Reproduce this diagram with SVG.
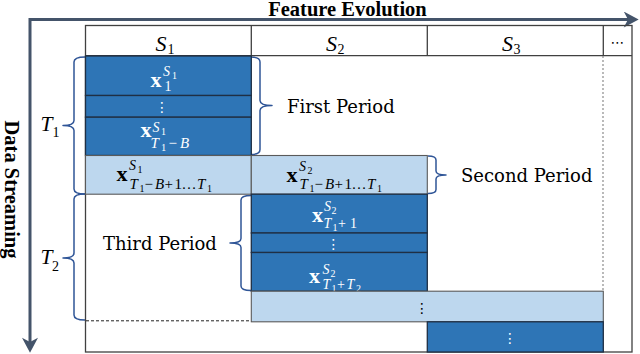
<svg xmlns="http://www.w3.org/2000/svg" width="640" height="354" viewBox="0 0 640 354">
<defs>
<marker id="ah" markerUnits="userSpaceOnUse" markerWidth="16" markerHeight="16" viewBox="0 0 14 15" refX="4" refY="7.5" orient="auto-start-reverse"><path d="M0,0 L14,7.5 L0,15 L4,7.5 Z" fill="#44546A"/></marker>
</defs>
<style>
.frame{fill:none;stroke:#404040;stroke-width:1.3}
.dk{fill:#2E75B6;stroke:#1F2F44;stroke-width:1.3}
.lt{fill:#BDD7EE;stroke:#5a5a5a;stroke-width:1.1}
.br{fill:none;stroke:#2F5597;stroke-width:1.5;stroke-linejoin:round}
.axis{fill:none;stroke:#44546A;stroke-width:3}
.t{font-family:"DejaVu Serif",serif;font-size:18px;fill:#000}
.ttl{font-family:"Liberation Serif",serif;font-size:20.5px;font-weight:bold;fill:#000}
.m{font-family:"Liberation Serif",serif;fill:#000}
.it{font-style:italic}
.bx{font-weight:bold;font-size:22px}
.w{fill:#fff}
.dots{font-family:"DejaVu Sans",sans-serif;font-size:14px;text-anchor:middle}
</style>
<rect x="0" y="0" width="640" height="354" fill="#fff"/>

<g id="connectors">
<path class="axis" d="M30,342 V19.5 H628" marker-start="url(#ah)" marker-end="url(#ah)"/>
<path id="brace-T1" class="br" d="M85,57 Q74,57 74,62 V120.5 Q74,125.5 63,125.5 Q74,125.5 74,130.5 V189 Q74,194 85,194"/>
<path id="brace-T2" class="br" d="M85,194 Q74,194 74,199 V253 Q74,258 63,258 Q74,258 74,263 V315 Q74,320 85,320"/>
<path id="brace-first" class="br" d="M251,57 Q260,57 260,62 V100.5 Q260,105.5 272,105.5 Q260,105.5 260,110.5 V149.5 Q260,154.5 251,154.5"/>
<path id="brace-second" class="br" d="M428,156 Q436,156 436,160 V171 Q436,175 446,175 Q436,175 436,179 V189.5 Q436,193.5 428,193.5"/>
<path id="brace-third" class="br" d="M251,195.5 Q241,195.5 241,200 V238.5 Q241,243 230,243 Q241,243 241,247.5 V286 Q241,290.5 251,290.5"/>
</g>

<g id="table-frame">
<rect class="frame" x="85.5" y="25.5" width="546.5" height="326.5"/>
<line class="frame" x1="85.5" y1="55.7" x2="632" y2="55.7"/>
<line class="frame" x1="251.3" y1="25.5" x2="251.3" y2="55.7"/>
<line class="frame" x1="427.3" y1="25.5" x2="427.3" y2="55.7"/>
<line class="frame" x1="603.3" y1="25.5" x2="603.3" y2="55.7"/>
<line x1="603" y1="56" x2="603" y2="291" stroke="#8c8c8c" stroke-width="1.2" stroke-dasharray="2,2"/>
<line x1="86" y1="320.8" x2="251" y2="320.8" stroke="#222" stroke-width="1" stroke-dasharray="3,2"/>
</g>

<g id="header">
<text class="m it" font-size="22" x="155.5" y="50.5">S</text><text class="m" font-size="14" x="167.5" y="53.5">1</text>
<text class="m it" font-size="22" x="326" y="50.5">S</text><text class="m" font-size="14" x="337.5" y="53.5">2</text>
<text class="m it" font-size="22" x="502" y="50.5">S</text><text class="m" font-size="14" x="513.5" y="53.5">3</text>
<text class="dots" x="617.5" y="46.5">⋯</text>
</g>

<g id="cell-s1-r1">
<rect class="dk" x="85.5" y="56" width="165.8" height="39.5"/>
<text class="m bx w" x="150.5" y="87">x</text>
<text class="m it w" font-size="14" x="163" y="75.5">S</text>
<text class="m w" font-size="10" x="172" y="78.5">1</text>
<text class="m w" font-size="14" x="164.5" y="91">1</text>
</g>
<g id="cell-s1-r2">
<rect class="dk" x="85.5" y="95.5" width="165.8" height="21.7"/>
<text class="dots w" x="162" y="112">⋮</text>
</g>
<g id="cell-s1-r3">
<rect class="dk" x="85.5" y="117.2" width="165.8" height="38.3"/>
<text class="m bx w" x="140.5" y="136.5">x</text>
<text class="m it w" font-size="14" x="152.5" y="131.5">S</text>
<text class="m w" font-size="10" x="161" y="134.5">1</text>
<text class="m w" font-size="15" y="147.5"><tspan class="it" x="150.5">T</tspan><tspan font-size="10.5" x="161" dy="3.5">1</tspan><tspan x="168.5" dy="-3.5">−</tspan><tspan class="it" x="180">B</tspan></text>
</g>
<g id="cell-s1-r4">
<rect class="lt" x="85.5" y="155.5" width="165.8" height="38.7"/>
<text class="m bx" x="116.5" y="181">x</text>
<text class="m it" font-size="14" x="129" y="169.5">S</text>
<text class="m" font-size="10" x="137.5" y="172.5">1</text>
<text class="m" font-size="15" y="188.5"><tspan class="it" x="129.5">T</tspan><tspan font-size="10" x="139.5" dy="3">1</tspan><tspan x="144.5" dy="-3">−</tspan><tspan class="it" x="155">B</tspan><tspan x="164.5">+</tspan><tspan x="174.5">1</tspan><tspan x="181.5">…</tspan><tspan class="it" x="197">T</tspan><tspan font-size="10" x="207" dy="3">1</tspan></text>
</g>

<g id="cell-s2-r4">
<rect class="lt" x="251.3" y="155.5" width="176" height="38.7"/>
<text class="m bx" x="286.5" y="182">x</text>
<text class="m it" font-size="14" x="299" y="170.5">S</text>
<text class="m" font-size="10" x="307.5" y="173.5">2</text>
<text class="m" font-size="15" y="189"><tspan class="it" x="299.5">T</tspan><tspan font-size="10" x="309.5" dy="3">1</tspan><tspan x="314.5" dy="-3">−</tspan><tspan class="it" x="325">B</tspan><tspan x="334.5">+</tspan><tspan x="344.5">1</tspan><tspan x="351.5">…</tspan><tspan class="it" x="367">T</tspan><tspan font-size="10" x="377" dy="3">1</tspan></text>
</g>
<g id="cell-s2-r5">
<rect class="dk" x="251.3" y="194.2" width="176" height="38.8"/>
<text class="m bx w" x="312" y="222">x</text>
<text class="m it w" font-size="14" x="324" y="211">S</text>
<text class="m w" font-size="10" x="331.5" y="214">2</text>
<text class="m w" font-size="14" y="227.5"><tspan class="it" x="323.5">T</tspan><tspan font-size="10" x="332.5" dy="3">1</tspan><tspan x="338" dy="-3">+</tspan><tspan x="350">1</tspan></text>
</g>
<g id="cell-s2-r6">
<rect class="dk" x="251.3" y="233" width="176" height="19.5"/>
<text class="dots w" x="333.5" y="248.5">⋮</text>
</g>
<g id="cell-s2-r7">
<rect class="dk" x="251.3" y="252.5" width="176" height="38.7"/>
<text class="m bx w" x="309" y="283">x</text>
<text class="m it w" font-size="14" x="322.5" y="274">S</text>
<text class="m w" font-size="10" x="330.5" y="277">2</text>
<text class="m w" font-size="14" y="289"><tspan class="it" x="322.5">T</tspan><tspan font-size="10" x="331.5" dy="2.5">1</tspan><tspan x="337" dy="-2.5">+</tspan><tspan class="it" x="346.5">T</tspan><tspan font-size="10" x="356" dy="2.5">2</tspan></text>
</g>
<g id="cell-wide">
<rect class="lt" x="251.3" y="291.2" width="352" height="30.6"/>
<text class="dots" x="422" y="312.5">⋮</text>
</g>
<g id="cell-bottom">
<rect class="dk" x="427.3" y="321.8" width="176" height="30.2"/>
<text class="dots w" x="510" y="342.5">⋮</text>
</g>

<g id="labels">
<text class="ttl" x="347.5" y="16" text-anchor="middle">Feature Evolution</text>
<text class="ttl" font-size="21" transform="translate(4.5,189.5) rotate(90)" text-anchor="middle">Data Streaming</text>
<text class="m it" font-size="21.5" x="40.5" y="130.5">T</text><text class="m" font-size="14" x="52.5" y="137">1</text>
<text class="m it" font-size="21.5" x="40.5" y="264">T</text><text class="m" font-size="14" x="52" y="270.5">2</text>
<text class="t" x="287" y="112.5">First Period</text>
<text class="t" x="461" y="182">Second Period</text>
<text class="t" x="103" y="249.5">Third Period</text>
</g>
</svg>
